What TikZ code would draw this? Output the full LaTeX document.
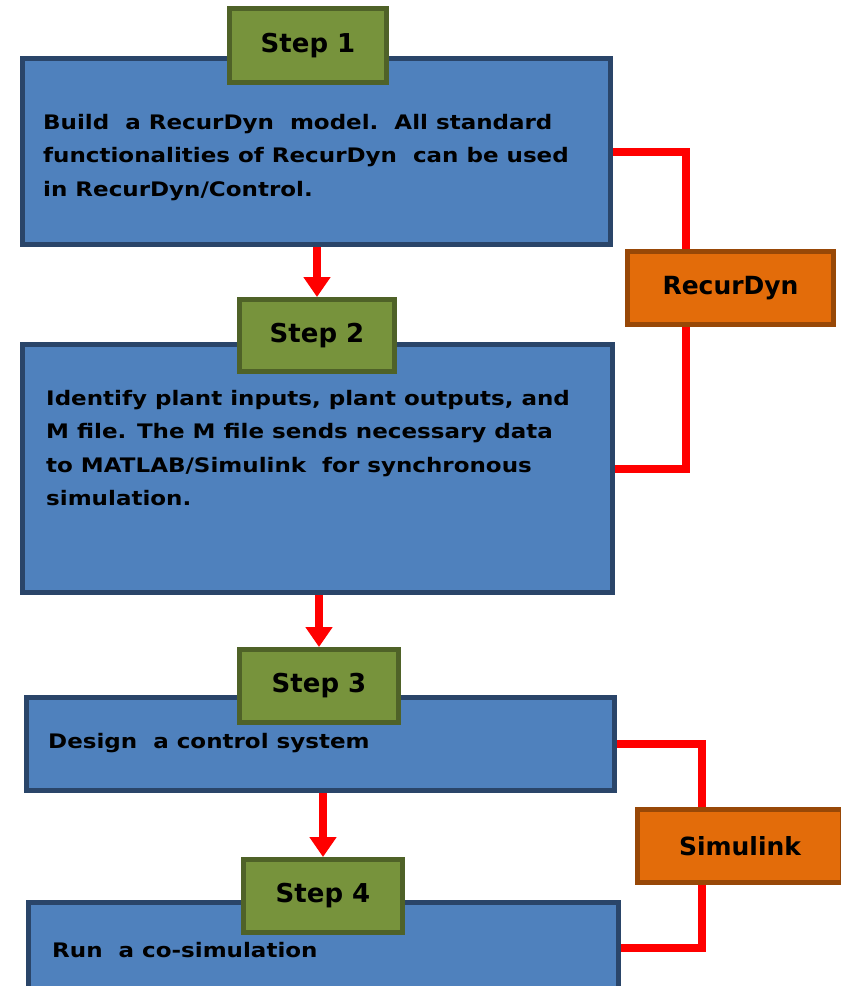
\documentclass[tikz,border=0pt]{standalone}
\usepackage{fontspec}
\setmainfont{DejaVu Sans}
\newfontfamily\bodyfont{DejaVu Sans}[FakeStretch=1.15]
\usetikzlibrary{arrows.meta}
\definecolor{boxfill}{HTML}{4F81BD}
\definecolor{boxline}{HTML}{2A4569}
\definecolor{stepfill}{HTML}{77933C}
\definecolor{stepline}{HTML}{4F6228}
\definecolor{toolfill}{HTML}{E36C0A}
\definecolor{toolline}{HTML}{984807}
\tikzset{
  mainbox/.style={draw=boxline, fill=boxfill, line width=5pt, inner sep=0pt},
  stepbox/.style={draw=stepline, fill=stepfill, line width=5pt, inner sep=0pt,
     font=\fontsize{26}{30}\selectfont\bfseries},
  toolbox/.style={draw=toolline, fill=toolfill, line width=5pt, inner sep=0pt,
     font=\fontsize{25}{28}\selectfont\bfseries},
  bodytext/.style={anchor=north west, inner sep=0pt, align=left,
     font=\bodyfont\fontsize{20}{33.5}\selectfont\bfseries},
  flow/.style={draw=red, line width=8pt, -{Triangle[width=26pt,length=20pt]}},
  link/.style={draw=red, line width=8pt},
}
\begin{document}
\begin{tikzpicture}[x=1pt,y=-1pt]
\clip (0,0) rectangle (841,986);
% main boxes
\node[mainbox, minimum width=588pt, minimum height=186pt, anchor=north west] (box1) at (20,56) {};
\node[mainbox, minimum width=590pt, minimum height=248pt, anchor=north west] (box2) at (20,342) {};
\node[mainbox, minimum width=588pt, minimum height=93pt, anchor=north west] (box3) at (24,695) {};
\node[mainbox, minimum width=590pt, minimum height=90pt, anchor=north west] (box4) at (26,900) {};
% texts
\node[bodytext] (t1) at (43,114) {Build\ \ a RecurDyn\ \ model.\ \ All standard\\functionalities of RecurDyn\ \ can be used\\in RecurDyn/Control.};
\node[bodytext] (t2) at (46,390) {Identify plant inputs, plant outputs, and\\M file. The M file sends necessary data\\to MATLAB/Simulink\ \ for synchronous\\simulation.};
\node[bodytext] (t3) at (48,733) {Design\ \ a control system};
\node[bodytext] (t4) at (52,942) {Run\ \ a co-simulation};
% step labels
\node[stepbox, minimum width=157pt, minimum height=74pt, anchor=north west] (s1) at (227,6) {Step 1};
\node[stepbox, minimum width=155pt, minimum height=72pt, anchor=north west] (s2) at (237,297) {Step 2};
\node[stepbox, minimum width=159pt, minimum height=73pt, anchor=north west] (s3) at (237,647) {Step 3};
\node[stepbox, minimum width=159pt, minimum height=73pt, anchor=north west] (s4) at (241,857) {Step 4};
% tools
\node[toolbox, minimum width=206pt, minimum height=73pt, anchor=north west] (rd) at (625,249) {RecurDyn};
\node[toolbox, minimum width=205pt, minimum height=73pt, anchor=north west] (sl) at (635,807) {Simulink};
% flow arrows
\draw[flow] (box1.south -| s2.north) -- (s2.north);
\draw[flow] (box2.south -| s3.north) -- (s3.north);
\draw[flow] (box3.south -| s4.north) -- (s4.north);
% links
\coordinate (rdx) at (686,0);
\coordinate (slx) at (702,0);
\draw[link] (box1.east) -| (rd.north -| rdx);
\draw[link] (rd.south -| rdx) |- (box2.east);
\draw[link] (box3.east) -| (sl.north -| slx);
\draw[link] (sl.south -| slx) |- (box4.east);
\end{tikzpicture}
\end{document}
